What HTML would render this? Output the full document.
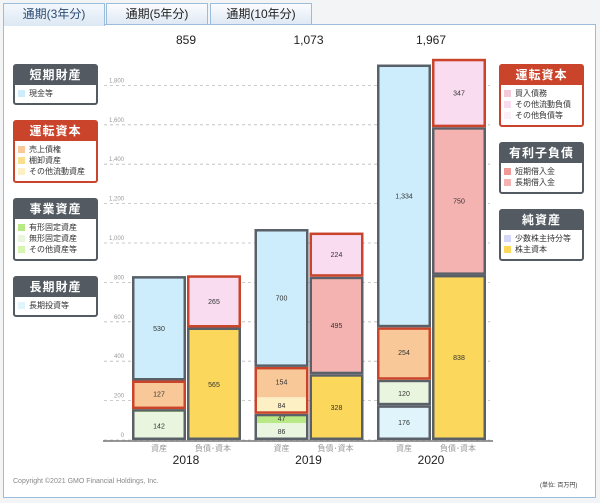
<!DOCTYPE html>
<html><head><meta charset="utf-8">
<style>
body{margin:0;width:600px;height:503px;background:#f3f4f6;font-family:"Liberation Sans","Noto Sans CJK JP",sans-serif;position:relative;overflow:hidden}
.tab{position:absolute;top:3px;height:20px;border:1px solid #9cbcdc;border-bottom:none;background:linear-gradient(#fbfcfe,#dfe9f4);font-size:12px;text-align:center;line-height:21px;color:#222}
.tab.act{background:linear-gradient(#f4f8fc,#dce8f4);color:#2b4a72;height:22px;z-index:2;border-bottom:none}
#panel{position:absolute;left:3px;top:24px;width:591px;height:472px;border:1px solid #9cbcdc;background:#fff}
.lg{position:absolute;width:81px;border:2px solid #535a61;border-radius:3px;background:#fff;font-size:8px;color:#333}
.lg .h{background:#535a61;color:#fff;font-size:12px;font-weight:bold;text-align:center;height:19px;line-height:19px;letter-spacing:1px}
.lg.r{border-color:#c9442a}.lg.r .h{background:#c9442a}
.lg .it{height:11px;line-height:11px;padding-left:3px;white-space:nowrap}
.lg .it i{display:inline-block;width:7px;height:7px;margin-right:4px;vertical-align:-1px}
</style></head><body>
<div class="tab act" style="left:3px;width:100px">通期(3年分)</div>
<div class="tab" style="left:106px;width:100px">通期(5年分)</div>
<div class="tab" style="left:210px;width:100px">通期(10年分)</div>
<div id="panel"></div>

<div class="lg" style="left:13px;top:64px"><div class="h">短期財産</div><div style="padding:3px 0 4px"><div class="it"><i style="background:#cdedfc"></i>現金等</div></div></div>
<div class="lg r" style="left:13px;top:120px"><div class="h">運転資本</div><div style="padding:3px 0 4px"><div class="it"><i style="background:#f8c898"></i>売上債権</div><div class="it"><i style="background:#f9de8e"></i>棚卸資産</div><div class="it"><i style="background:#fdf0c4"></i>その他流動資産</div></div></div>
<div class="lg" style="left:13px;top:198px"><div class="h">事業資産</div><div style="padding:3px 0 4px"><div class="it"><i style="background:#b8e986"></i>有形固定資産</div><div class="it"><i style="background:#e9f5df"></i>無形固定資産</div><div class="it"><i style="background:#d8f5b0"></i>その他資産等</div></div></div>
<div class="lg" style="left:13px;top:276px"><div class="h">長期財産</div><div style="padding:3px 0 4px"><div class="it"><i style="background:#e0f4fc"></i>長期投資等</div></div></div>

<div class="lg r" style="left:499px;top:64px"><div class="h">運転資本</div><div style="padding:3px 0 4px"><div class="it"><i style="background:#f6c9d8"></i>買入債務</div><div class="it"><i style="background:#f9dcf0"></i>その他流動負債</div><div class="it"><i style="background:#fcf0f8"></i>その他負債等</div></div></div>
<div class="lg" style="left:499px;top:142px"><div class="h">有利子負債</div><div style="padding:3px 0 4px"><div class="it"><i style="background:#ef9a98"></i>短期借入金</div><div class="it"><i style="background:#f4b3b0"></i>長期借入金</div></div></div>
<div class="lg" style="left:499px;top:209px"><div class="h">純資産</div><div style="padding:3px 0 4px"><div class="it"><i style="background:#d3d8f8"></i>少数株主持分等</div><div class="it"><i style="background:#fbd75b"></i>株主資本</div></div></div>

<svg id="chart" width="600" height="503" style="position:absolute;left:0;top:0" font-family="Liberation Sans, Noto Sans CJK JP, sans-serif"></svg>
<div style="position:absolute;left:13px;top:478px;font-size:7px;color:#888">Copyright ©2021 GMO Financial Holdings, Inc.</div>
<div style="position:absolute;left:540px;top:480px;font-size:6px;color:#333">(単位: 百万円)</div>

<script>
const years=["2018","2019","2020"];
const totals=["859","1,073","1,967"];
const ticks=[0,200,400,600,800,1000,1200,1400,1600,1800];
// asset groups bottom-up: [groupName, border, segments[[value,color,label]]]
const assets2018=[["business","g",[[142,"#e9f5df","142"],[15,"#b8e986",""]]],["working","r",[[10,"#fdf0c4",""],[135,"#f8c898","127"]]],["cash","g",[[530,"#cdedfc","530"]]]];
const assets2019=[["business","g",[[86,"#e9f5df","86"],[47,"#b8e986","47"]]],["working","r",[[84,"#fdf0c4","84"],[154,"#f8c898","154"]]],["cash","g",[[700,"#cdedfc","700"]]]];
const assets2020=[["longterm","g",[[176,"#e0f4fc","176"]]],["business","g",[[120,"#e9f5df","120"],[10,"#b8e986",""]]],["working","r",[[12,"#fdf0c4",""],[254,"#f8c898","254"]]],["cash","g",[[1334,"#cdedfc","1,334"]]]];
const liab2018=[["equity","g",[[565,"#fbd75b","565"],[6,"#d3d8f8",""]]],["working","r",[[265,"#f9dcf0","265"]]]];
const liab2019=[["equity","g",[[328,"#fbd75b","328"],[6,"#d3d8f8",""]]],["debt","g",[[495,"#f4b3b0","495"]]],["working","r",[[224,"#f9dcf0","224"]]]];
const liab2020=[["equity","g",[[838,"#fbd75b","838"]]],["debt","g",[[750,"#f4b3b0","750"]]],["working","r",[[347,"#f9dcf0","347"]]]];
const assetsAll=[assets2018,assets2019,assets2020];
const liabAll=[liab2018,liab2019,liab2020];

const NS="http://www.w3.org/2000/svg";
const svg=document.getElementById("chart");
const y0=440,k=0.197;
const yS=v=>y0-v*k;
const xA=i=>132+i*122.5;
const bw=54;
function mk(t,a,p){const e=document.createElementNS(NS,t);for(const n in a)e.setAttribute(n,a[n]);(p||svg).appendChild(e);return e;}
ticks.forEach(t=>{
  const g=mk("g",{});
  
  
  mk("line",{x1:104,x2:490,y1:yS(t),y2:yS(t),stroke:"#bbb","stroke-dasharray":"3,3","stroke-width":0.8},g);
  const tx=mk("text",{x:124,y:yS(t)-3,"font-size":6,fill:"#999","text-anchor":"end"},g);
  tx.textContent=t.toLocaleString("en-US");
});
function drawStack(groups,x,name){
  let acc=0;
  groups.forEach(([gname,b,segs])=>{
    const gt=segs.reduce((s,d)=>s+d[0],0);
    const g=mk("g",{});
    
    
    let a2=acc;
    segs.forEach(([v,c,l])=>{
      mk("rect",{x:x,y:yS(a2+v),width:bw,height:v*k,fill:c},g);
      if(l){const t=mk("text",{x:x+bw/2,y:yS(a2+v/2)+2.5,"font-size":7,fill:"#333","text-anchor":"middle"},g);t.textContent=l;}
      a2+=v;
    });
    mk("rect",{x:x+1.25,y:yS(acc+gt)+1.25,width:bw-2.5,height:gt*k-2.5,fill:"none",stroke:b=="r"?"#c9442a":"#5a6068","stroke-width":2.5},g);
    acc+=gt;
  });
}
years.forEach((yr,i)=>{
  drawStack(assetsAll[i],xA(i),"assets-"+yr);
  drawStack(liabAll[i],xA(i)+bw+1,"liabilities-"+yr);
  let t=mk("text",{x:xA(i)+bw,y:44,"font-size":12,fill:"#222","text-anchor":"middle"});
  
  
  t.textContent=totals[i];
  t=mk("text",{x:xA(i)+bw,y:464,"font-size":12,fill:"#222","text-anchor":"middle"});
  
  
  t.textContent=yr;
  t=mk("text",{x:xA(i)+bw/2,y:451,"font-size":8,fill:"#999","text-anchor":"middle"});
  
  
  t.textContent="資産";
  t=mk("text",{x:xA(i)+bw*1.5,y:451,"font-size":8,fill:"#999","text-anchor":"middle"});
  
  
  t.textContent="負債･資本";
});
const ax=mk("line",{x1:103,x2:493,y1:441,y2:441,stroke:"#777","stroke-width":1.5});


</script>
</body></html>
